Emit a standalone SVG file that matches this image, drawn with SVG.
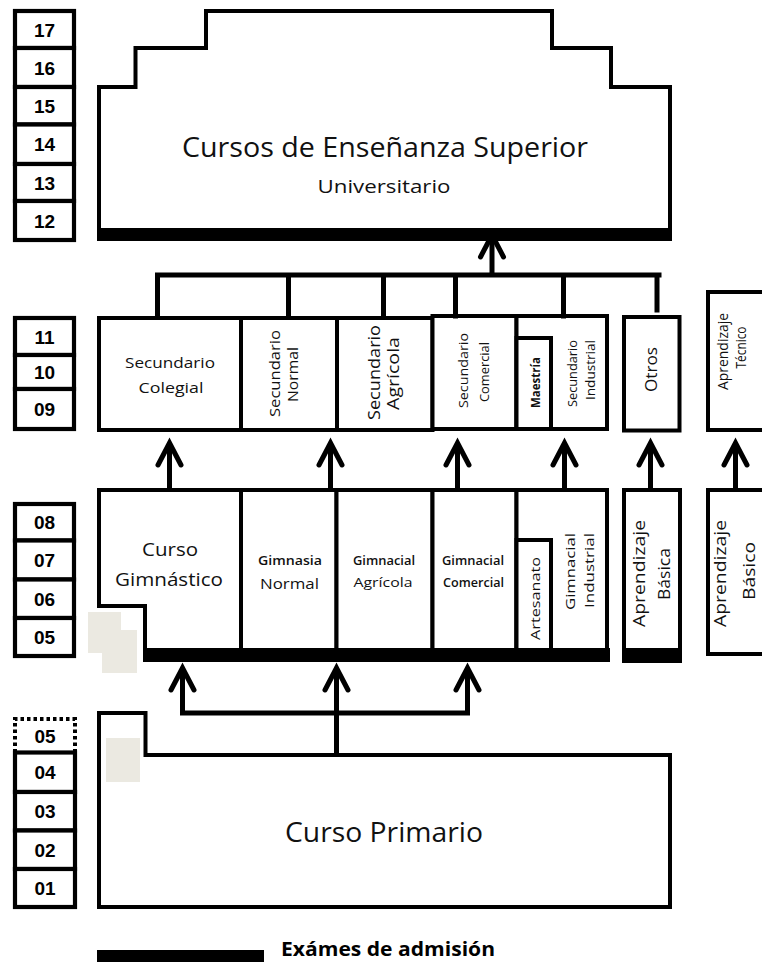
<svg xmlns="http://www.w3.org/2000/svg" width="762" height="962" viewBox="0 0 762 962">
  <style>
    .box { fill: #fff; stroke: #000; stroke-width: 4; }
    .bar { fill: #000; }
    .yr { fill: #fff; stroke: #000; stroke-width: 4.2; }
    .num { font-family: "Liberation Sans", Arial, sans-serif; font-weight: bold; font-size: 19px; fill: #000; text-anchor: middle; }
    .lbl { font-family: "Open Sans", "Noto Sans", sans-serif; fill: #111; text-anchor: middle; }
    .conn { fill: none; stroke: #000; stroke-width: 5; stroke-linecap: square; }
    .arrow { fill: none; stroke: #000; stroke-width: 5; stroke-linecap: butt; marker-end: url(#chev); }
    .shade { fill: #ebe9e1; }
  </style>
  <defs>
    <marker id="chev" markerUnits="userSpaceOnUse" orient="auto" markerWidth="60" markerHeight="60" refX="0" refY="0" overflow="visible">
      <path d="M-22,-11.5 L0,0 L-22,11.5" fill="none" stroke="#000" stroke-width="5" stroke-linecap="round" stroke-linejoin="miter" stroke-miterlimit="10"/>
    </marker>
  </defs>

  <rect width="762" height="962" fill="#fff"/>

  <!-- year scale -->
  <g id="years-upper">
    <rect class="yr" x="15" y="11" width="59" height="37"/>
    <rect class="yr" x="15" y="48" width="59" height="39"/>
    <rect class="yr" x="15" y="87" width="59" height="37.5"/>
    <rect class="yr" x="15" y="124.5" width="59" height="39.5"/>
    <rect class="yr" x="15" y="164" width="59" height="37"/>
    <rect class="yr" x="15" y="201" width="59" height="39"/>
    <text class="num" x="44.5" y="36.5">17</text>
    <text class="num" x="44.5" y="74.5">16</text>
    <text class="num" x="44.5" y="112.5">15</text>
    <text class="num" x="44.5" y="151">14</text>
    <text class="num" x="44.5" y="189.5">13</text>
    <text class="num" x="44.5" y="227.5">12</text>
  </g>
  <g id="years-secondary">
    <rect class="yr" x="15" y="318" width="59" height="37"/>
    <rect class="yr" x="15" y="355" width="59" height="34"/>
    <rect class="yr" x="15" y="389" width="59" height="40"/>
    <text class="num" x="44.5" y="343.5">11</text>
    <text class="num" x="44.5" y="379">10</text>
    <text class="num" x="44.5" y="416">09</text>
  </g>
  <g id="years-middle">
    <rect class="yr" x="15" y="504" width="59" height="36.5"/>
    <rect class="yr" x="15" y="540.5" width="59" height="39"/>
    <rect class="yr" x="15" y="579.5" width="59" height="38.5"/>
    <rect class="yr" x="15" y="618" width="59" height="38"/>
    <text class="num" x="44.5" y="529">08</text>
    <text class="num" x="44.5" y="567">07</text>
    <text class="num" x="44.5" y="606">06</text>
    <text class="num" x="44.5" y="644">05</text>
  </g>
  <g id="years-primary">
    <path d="M15,752.5 V719 H75 V752.5" fill="none" stroke="#000" stroke-width="4" stroke-dasharray="3.5 3"/>
    <rect class="yr" x="15" y="752.5" width="60" height="39.5"/>
    <rect class="yr" x="15" y="792" width="60" height="38.5"/>
    <rect class="yr" x="15" y="830.5" width="60" height="38.5"/>
    <rect class="yr" x="15" y="869" width="60" height="38"/>
    <text class="num" x="45" y="742.5">05</text>
    <text class="num" x="45" y="779">04</text>
    <text class="num" x="45" y="818">03</text>
    <text class="num" x="45" y="857">02</text>
    <text class="num" x="45" y="895">01</text>
  </g>

  <!-- higher education -->
  <g id="superior">
    <path class="box" d="M99,240 V87 H135.5 V48 H206 V11 H552 V48 H611 V87 H670 V241"/>
    <rect class="bar" x="97" y="228" width="571" height="13"/>
    <text class="lbl" x="385" y="157" font-size="28" textLength="406" lengthAdjust="spacingAndGlyphs">Cursos de Enseñanza Superior</text>
    <text class="lbl" x="384" y="193" font-size="18" textLength="133" lengthAdjust="spacingAndGlyphs">Universitario</text>
  </g>

  <!-- secondary level -->
  <g id="sec-colegial">
    <rect class="box" x="99" y="318" width="142" height="112"/>
    <text class="lbl" x="170" y="368" font-size="15" textLength="90" lengthAdjust="spacingAndGlyphs">Secundario</text>
    <text class="lbl" x="171" y="393" font-size="15" textLength="65" lengthAdjust="spacingAndGlyphs">Colegial</text>
  </g>
  <g id="sec-normal">
    <rect class="box" x="241" y="318" width="96" height="112"/>
    <text class="lbl" font-size="14" transform="translate(280,373.5) rotate(-90)" textLength="87" lengthAdjust="spacingAndGlyphs">Secundario</text>
    <text class="lbl" font-size="14" transform="translate(298,374.5) rotate(-90)" textLength="55" lengthAdjust="spacingAndGlyphs">Normal</text>
  </g>
  <g id="sec-agricola">
    <rect class="box" x="337" y="318" width="95.5" height="112"/>
    <text class="lbl" font-size="15.5" transform="translate(380,372.5) rotate(-90)" textLength="95" lengthAdjust="spacingAndGlyphs">Secundario</text>
    <text class="lbl" font-size="15.5" transform="translate(399,373.5) rotate(-90)" textLength="73" lengthAdjust="spacingAndGlyphs">Agrícola</text>
  </g>
  <g id="sec-comercial">
    <rect class="box" x="432.5" y="316" width="84" height="113"/>
    <text class="lbl" font-size="12.5" transform="translate(468,370.5) rotate(-90)" textLength="75" lengthAdjust="spacingAndGlyphs">Secundario</text>
    <text class="lbl" font-size="12.5" transform="translate(489,372) rotate(-90)" textLength="60" lengthAdjust="spacingAndGlyphs">Comercial</text>
  </g>
  <g id="sec-industrial">
    <rect class="box" x="516.5" y="316" width="90.5" height="113"/>
    <text class="lbl" font-size="12.5" transform="translate(577,373.5) rotate(-90)" textLength="67" lengthAdjust="spacingAndGlyphs">Secundario</text>
    <text class="lbl" font-size="12.5" transform="translate(595,370) rotate(-90)" textLength="60" lengthAdjust="spacingAndGlyphs">Industrial</text>
  </g>
  <g id="sec-maestria">
    <rect class="box" x="516.5" y="338" width="34.5" height="91"/>
    <text class="lbl" font-size="11.5" font-weight="bold" transform="translate(540,382.5) rotate(-90)" textLength="51" lengthAdjust="spacingAndGlyphs">Maestría</text>
  </g>
  <g id="sec-otros">
    <rect class="box" x="624" y="317" width="55.5" height="113.5"/>
    <text class="lbl" font-size="16" transform="translate(657,369.5) rotate(-90)" textLength="45" lengthAdjust="spacingAndGlyphs">Otros</text>
  </g>
  <g id="aprendizaje-tecnico">
    <rect class="box" x="708" y="292" width="62" height="138"/>
    <text class="lbl" font-size="14" transform="translate(728,351.5) rotate(-90)" textLength="77" lengthAdjust="spacingAndGlyphs">Aprendizaje</text>
    <text class="lbl" font-size="14" transform="translate(746,347.5) rotate(-90)" textLength="42" lengthAdjust="spacingAndGlyphs">Técnico</text>
  </g>

  <!-- middle level -->
  <g id="curso-gimnastico">
    <path class="box" d="M99,490 H241 V655 H145 V606 H99 Z"/>
    <text class="lbl" x="170" y="556" font-size="19" textLength="56" lengthAdjust="spacingAndGlyphs">Curso</text>
    <text class="lbl" x="169" y="586" font-size="19" textLength="108" lengthAdjust="spacingAndGlyphs">Gimnástico</text>
  </g>
  <g id="gimnasia-normal">
    <rect class="box" x="241" y="490" width="95.5" height="160"/>
    <text class="lbl" x="290" y="565" font-size="12" font-weight="600" textLength="64" lengthAdjust="spacingAndGlyphs">Gimnasia</text>
    <text class="lbl" x="289.5" y="589" font-size="15" textLength="59" lengthAdjust="spacingAndGlyphs">Normal</text>
  </g>
  <g id="gimnacial-agricola">
    <rect class="box" x="336.5" y="490" width="96" height="160"/>
    <text class="lbl" x="384" y="565" font-size="12" font-weight="600" textLength="62" lengthAdjust="spacingAndGlyphs">Gimnacial</text>
    <text class="lbl" x="383" y="587" font-size="13" textLength="59" lengthAdjust="spacingAndGlyphs">Agrícola</text>
  </g>
  <g id="gimnacial-comercial">
    <rect class="box" x="432.5" y="490" width="84" height="160"/>
    <text class="lbl" x="473" y="565" font-size="12" font-weight="600" textLength="62" lengthAdjust="spacingAndGlyphs">Gimnacial</text>
    <text class="lbl" x="473.5" y="587" font-size="12" font-weight="600" textLength="61" lengthAdjust="spacingAndGlyphs">Comercial</text>
  </g>
  <g id="gimnacial-industrial">
    <rect class="box" x="516.5" y="490" width="90.5" height="160"/>
    <text class="lbl" font-size="13" transform="translate(575,571.5) rotate(-90)" textLength="77" lengthAdjust="spacingAndGlyphs">Gimnacial</text>
    <text class="lbl" font-size="13" transform="translate(594,570.5) rotate(-90)" textLength="75" lengthAdjust="spacingAndGlyphs">Industrial</text>
  </g>
  <g id="artesanato">
    <rect class="box" x="516.5" y="540" width="34.5" height="110"/>
    <text class="lbl" font-size="12" transform="translate(540,598.5) rotate(-90)" textLength="83" lengthAdjust="spacingAndGlyphs">Artesanato</text>
  </g>
  <rect class="bar" x="143" y="648" width="467" height="14"/>
  <g id="aprendizaje-basica">
    <rect class="box" x="624" y="490" width="56" height="160"/>
    <rect class="bar" x="622" y="648" width="60" height="15"/>
    <text class="lbl" font-size="16" transform="translate(645,573.5) rotate(-90)" textLength="107" lengthAdjust="spacingAndGlyphs">Aprendizaje</text>
    <text class="lbl" font-size="16" transform="translate(670,574) rotate(-90)" textLength="52" lengthAdjust="spacingAndGlyphs">Básica</text>
  </g>
  <g id="aprendizaje-basico">
    <rect class="box" x="708" y="490" width="62" height="164"/>
    <text class="lbl" font-size="16" transform="translate(726,573.5) rotate(-90)" textLength="107" lengthAdjust="spacingAndGlyphs">Aprendizaje</text>
    <text class="lbl" font-size="16" transform="translate(755,571) rotate(-90)" textLength="58" lengthAdjust="spacingAndGlyphs">Básico</text>
  </g>

  <!-- primary level -->
  <g id="curso-primario">
    <path class="box" d="M99,713 H145.5 V755 H670 V907 H99 Z"/>
    <text class="lbl" x="384" y="842" font-size="27" textLength="198" lengthAdjust="spacingAndGlyphs">Curso Primario</text>
  </g>

  <!-- pale filler squares -->
  <g id="shading">
    <rect class="shade" x="88" y="612" width="33" height="41"/>
    <rect class="shade" x="102" y="630" width="35" height="43"/>
    <rect class="shade" x="106" y="738" width="34" height="44"/>
  </g>

  <!-- connectors -->
  <g id="connectors">
    <path class="conn" d="M157.5,317 V275 H659 M288.5,275 V317 M383.5,275 V317 M455.5,275 V316 M563.5,275 V316 M657,275 V310"/>
    <path class="arrow" d="M492,275 V235"/>
    <path class="arrow" d="M169.5,490 V443"/>
    <path class="arrow" d="M330.5,490 V443"/>
    <path class="arrow" d="M457.5,490 V443"/>
    <path class="arrow" d="M564.5,490 V443"/>
    <path class="arrow" d="M650.5,490 V443"/>
    <path class="arrow" d="M735.5,490 V443"/>
    <path class="conn" d="M182.5,713 H467.5"/>
    <path class="arrow" d="M336.5,755 V668"/>
    <path class="arrow" d="M182.5,713 V668"/>
    <path class="arrow" d="M467.5,713 V668"/>
  </g>

  <!-- legend -->
  <g id="legend">
    <rect class="bar" x="97" y="950" width="167" height="12"/>
    <text x="281" y="956" font-family="'Open Sans', 'Noto Sans', sans-serif" font-weight="bold" font-size="19" fill="#000" textLength="214" lengthAdjust="spacingAndGlyphs">Exámes de admisión</text>
  </g>
</svg>
